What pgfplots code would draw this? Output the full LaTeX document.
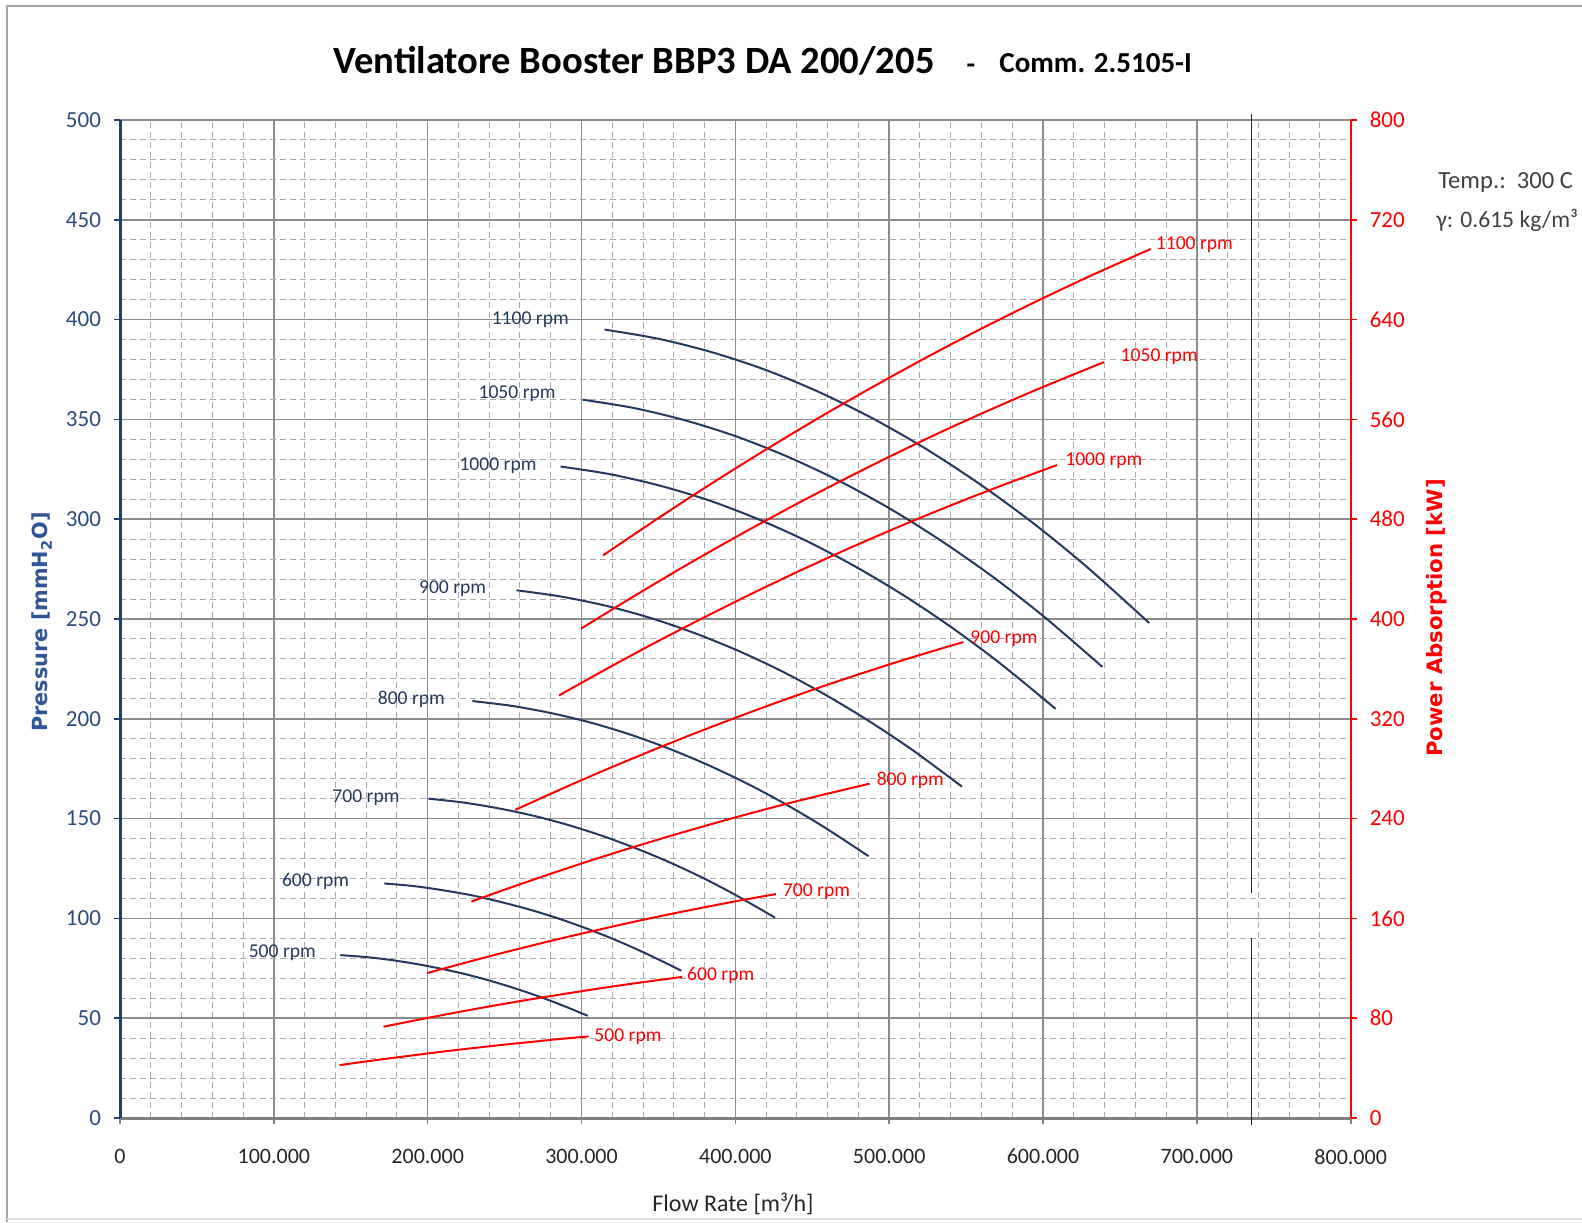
\documentclass[border=0pt]{standalone}
\usepackage{fontspec}
\setmainfont{Carlito}
\newfontfamily\djv{DejaVu Sans}
\usepackage{pgfplots}
\pgfplotsset{compat=1.18}
\definecolor{curveblue}{HTML}{24395E}
\definecolor{tickblue}{HTML}{2B4C7E}
\definecolor{axblue}{HTML}{1F3F77}
\definecolor{labblue}{HTML}{2F5597}
\definecolor{gridmaj}{HTML}{8C8C8C}
\definecolor{gridmin}{HTML}{AAAAAA}
\definecolor{axgray}{HTML}{7F7F7F}
\definecolor{pured}{HTML}{FF0000}
\begin{document}
\begin{tikzpicture}
\useasboundingbox (0,0) rectangle (791pt,611pt);
\draw[gray!70, line width=1.2pt] (3.5pt,0) -- (3.5pt,608pt) -- (791pt,608pt);
\draw[gray!25, line width=0.8pt] (3.5pt,1.5pt) -- (791pt,1.5pt);
% title
\node[anchor=base west, inner sep=0] at (166.5pt,574.2pt) {\bfseries\fontsize{19.3}{20}\selectfont Ventilatore Booster BBP3 DA 200/205};
\node[anchor=base, inner sep=0] at (485.5pt,574.2pt) {\bfseries\fontsize{14}{14}\selectfont -};
\node[anchor=base west, inner sep=0] at (499.5pt,574.8pt) {\bfseries\fontsize{14.5}{15}\selectfont Comm. 2.5105-I};
% side notes
\node[anchor=west, inner sep=0, text=black!75] at (719pt,519.7pt) {\fontsize{12.3}{13}\selectfont Temp.:\ \ 300 C};
\node[anchor=west, inner sep=0, text=black!75] at (718pt,501pt) {\fontsize{11.8}{13}\selectfont γ: 0.615 kg/m³};
% axis labels
\node[rotate=90, text=labblue] at (21pt,300pt) {\djv\bfseries\fontsize{10.4}{11}\selectfont Pressure [mmH\textsubscript{2}O]};
\node[rotate=90, text=pured] at (718.5pt,302pt) {\djv\bfseries\fontsize{10.6}{11}\selectfont Power Absorption [kW]};
\node[text=black!85] at (366.5pt,9pt) {\fontsize{12}{12}\selectfont Flow Rate [m³/h]};
\begin{axis}[
  at={(60pt,52pt)}, anchor=south west, scale only axis,
  width=615.35pt, height=499pt,
  xmin=0, xmax=800000, ymin=0, ymax=500,
  axis x line=bottom, axis y line=left,
  x axis line style={-, draw=axgray, line width=1.5pt},
  y axis line style={-, draw=axblue, line width=1.5pt},
  xtick={0,100000,200000,300000,400000,500000,600000,700000,800000},
  ytick={0,50,100,150,200,250,300,350,400,450,500},
  minor x tick num=4, minor y tick num=4,
  grid=both,
  major grid style={draw=gridmaj, line width=0.8pt},
  minor grid style={draw=gridmin, line width=0.5pt, dash pattern=on 3pt off 2pt},
  tick align=outside, major tick length=3pt, minor tick length=0pt,
  xtick style={draw=axgray, line width=0.8pt},
  ytick style={draw=axblue, line width=0.8pt},
  scaled x ticks=false,
  /pgf/number format/assume math mode=true,
  xticklabel style={/pgf/number format/.cd, fixed, 1000 sep={.}, /tikz/.cd,
     font=\fontsize{11}{11}\selectfont, text=black!85, yshift=-9pt},
  yticklabel style={font=\fontsize{11.5}{12}\selectfont, text=tickblue, xshift=-3pt},
  clip=false,
]
\draw[black!85, line width=0.4pt] (axis cs:735600,503) -- (axis cs:735600,112.7);
\draw[black!85, line width=0.4pt] (axis cs:735600,90.2) -- (axis cs:735600,-3.5);
% pressure curves
\addplot[curveblue, line width=1pt, smooth] coordinates {(315000,395.0) (350000,390.4) (385000,383.6) (420000,374.7) (455000,363.5) (490000,350.2) (525000,334.7) (560000,317.0) (595000,297.2) (630000,275.1) (669000,248.0)};
\addplot[curveblue, line width=1pt, smooth] coordinates {(300680,359.9) (334090,355.7) (367500,349.5) (400910,341.4) (434320,331.2) (467730,319.1) (501140,305.0) (534550,288.8) (567950,270.8) (601360,250.7) (638590,226.0)};
\addplot[curveblue, line width=1pt, smooth] coordinates {(286360,326.4) (318180,322.6) (350000,317.0) (381820,309.7) (413640,300.4) (445450,289.4) (477270,276.6) (509090,262.0) (540910,245.6) (572730,227.4) (608180,205.0)};
\addplot[curveblue, line width=1pt, smooth] coordinates {(257730,264.4) (286360,261.3) (315000,256.8) (343640,250.8) (372270,243.3) (400910,234.4) (429550,224.1) (458180,212.2) (486820,198.9) (515450,184.2) (547360,166.0)};
\addplot[curveblue, line width=1pt, smooth] coordinates {(229090,208.9) (254550,206.5) (280000,202.9) (305450,198.2) (330910,192.3) (356360,185.2) (381820,177.0) (407270,167.7) (432730,157.2) (458180,145.5) (486550,131.2)};
\addplot[curveblue, line width=1pt, smooth] coordinates {(200450,160.0) (222730,158.1) (245000,155.3) (267270,151.7) (289550,147.2) (311820,141.8) (334090,135.5) (356360,128.4) (378640,120.4) (400910,111.4) (425730,100.4)};
\addplot[curveblue, line width=1pt, smooth] coordinates {(171820,117.5) (190910,116.2) (210000,114.1) (229090,111.5) (248180,108.1) (267270,104.2) (286360,99.6) (305450,94.3) (324550,88.4) (343640,81.8) (364910,73.8)};
\addplot[curveblue, line width=1pt, smooth] coordinates {(143180,81.6) (159090,80.7) (175000,79.3) (190910,77.4) (206820,75.1) (222730,72.4) (238640,69.2) (254550,65.5) (270450,61.4) (286360,56.8) (304090,51.2)};
\begin{scope}[every node/.style={text=curveblue, font=\fontsize{9.8}{10}\selectfont, inner sep=0}]
\node at (axis cs:266700,399.9) {1100 rpm};
\node at (axis cs:258100,363.0) {1050 rpm};
\node at (axis cs:245700,326.6) {1000 rpm};
\node at (axis cs:216200,265.4) {900 rpm};
\node at (axis cs:189400,209.8) {800 rpm};
\node at (axis cs:159900,160.3) {700 rpm};
\node at (axis cs:127100,118.3) {600 rpm};
\node at (axis cs:105500,82.9) {500 rpm};
\end{scope}
\end{axis}
\begin{axis}[
  at={(60pt,52pt)}, anchor=south west, scale only axis,
  width=615.35pt, height=499pt,
  xmin=0, xmax=800000, ymin=0, ymax=800,
  axis x line=none, axis y line=right,
  y axis line style={-, draw=pured, line width=1pt},
  ytick={0,80,160,240,320,400,480,560,640,720,800},
  tick align=outside, major tick length=3pt,
  ytick style={draw=pured, line width=0.8pt},
  /pgf/number format/assume math mode=true,
  yticklabel style={font=\fontsize{11.5}{12}\selectfont, text=pured, xshift=3pt},
  clip=false,
]
% power curves
\addplot[pured, line width=1pt, smooth] coordinates {(314000,451.0) (350000,480.9) (385000,509.0) (420000,535.9) (455000,561.8) (490000,586.5) (525000,610.2) (560000,632.8) (595000,654.2) (630000,674.6) (670000,696.6)};
\addplot[pured, line width=1pt, smooth] coordinates {(299730,392.3) (334090,418.3) (367500,442.7) (400910,466.1) (434320,488.6) (467730,510.1) (501140,530.7) (534550,550.4) (567950,569.0) (601360,586.7) (639550,605.9)};
\addplot[pured, line width=1pt, smooth] coordinates {(285450,338.8) (318180,361.3) (350000,382.4) (381820,402.6) (413640,422.1) (445450,440.7) (477270,458.5) (509090,475.4) (540910,491.5) (572730,506.8) (609090,523.4)};
\addplot[pured, line width=1pt, smooth] coordinates {(256910,247.0) (286360,263.4) (315000,278.8) (343640,293.5) (372270,307.7) (400910,321.2) (429550,334.2) (458180,346.6) (486820,358.3) (515450,369.5) (548180,381.5)};
\addplot[pured, line width=1pt, smooth] coordinates {(228360,173.5) (254550,185.0) (280000,195.8) (305450,206.2) (330910,216.1) (356360,225.6) (381820,234.7) (407270,243.4) (432730,251.7) (458180,259.5) (487270,268.0)};
\addplot[pured, line width=1pt, smooth] coordinates {(199820,116.2) (222730,123.9) (245000,131.2) (267270,138.1) (289550,144.8) (311820,151.1) (334090,157.3) (356360,163.1) (378640,168.6) (400910,173.9) (426360,179.5)};
\addplot[pured, line width=1pt, smooth] coordinates {(171270,73.2) (190910,78.0) (210000,82.6) (229090,87.0) (248180,91.2) (267270,95.2) (286360,99.0) (305450,102.7) (324550,106.2) (343640,109.5) (365450,113.1)};
\addplot[pured, line width=1pt, smooth] coordinates {(142730,42.4) (159090,45.2) (175000,47.8) (190910,50.3) (206820,52.8) (222730,55.1) (238640,57.3) (254550,59.4) (270450,61.4) (286360,63.4) (304550,65.4)};
\begin{scope}[every node/.style={text=pured, font=\fontsize{9.8}{10}\selectfont, inner sep=0}]
\node at (axis cs:698400,699.7) {1100 rpm};
\node at (axis cs:675500,609.9) {1050 rpm};
\node at (axis cs:639500,526.6) {1000 rpm};
\node at (axis cs:574600,384.2) {900 rpm};
\node at (axis cs:513700,271.0) {800 rpm};
\node at (axis cs:452700,181.2) {700 rpm};
\node at (axis cs:390500,114.1) {600 rpm};
\node at (axis cs:330200,65.5) {500 rpm};
\end{scope}
\end{axis}
\end{tikzpicture}
\end{document}
